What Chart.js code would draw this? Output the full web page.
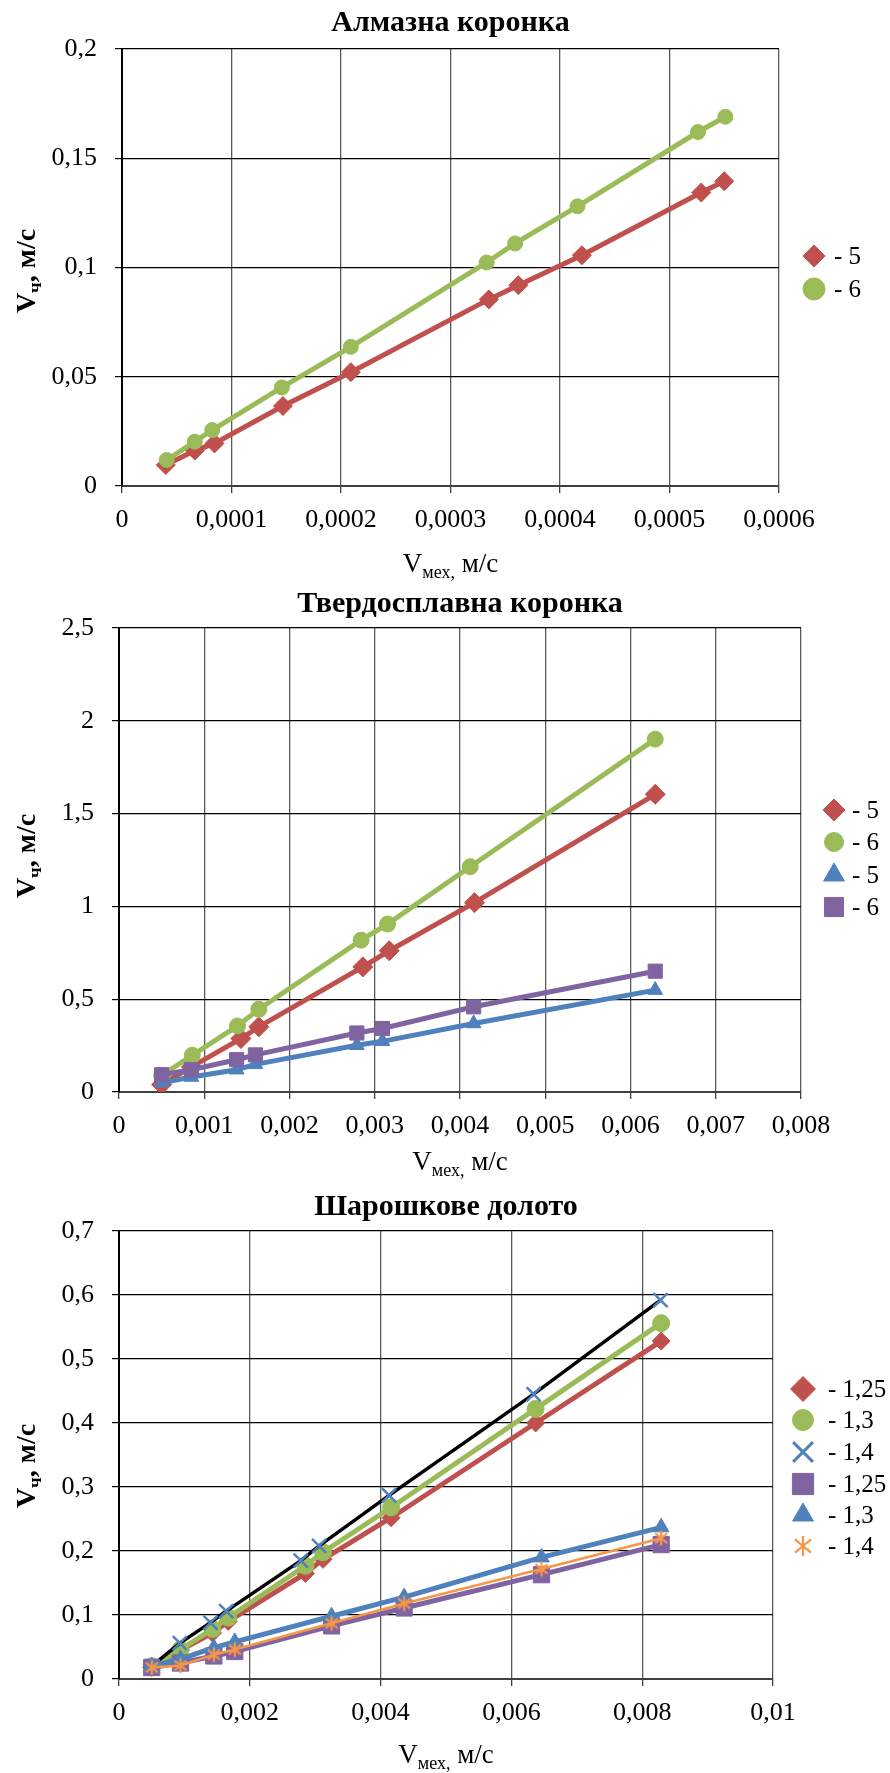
<!DOCTYPE html>
<html>
<head>
<meta charset="utf-8">
<script src="https://cdn.jsdelivr.net/npm/chart.js@4.4.1/dist/chart.umd.min.js"></script>
<style>
  body { margin: 0; background: #fff; }
  canvas { position: absolute; left: 0; }
</style>
</head>
<body>
<canvas id="c1" width="890" height="585" style="top:0"></canvas>
<canvas id="c2" width="890" height="595" style="top:585px"></canvas>
<canvas id="c3" width="890" height="593" style="top:1180px"></canvas>
<script>
// Алмазна коронка
const almazX5 = [0.000040, 0.0000665, 0.0000845, 0.000147, 0.000209, 0.000335, 0.000362, 0.000420, 0.000529, 0.000550];
const almazY5 = [0.0096, 0.0162, 0.0195, 0.0366, 0.0521, 0.0854, 0.0919, 0.1056, 0.1343, 0.1395];
const almazX6 = [0.0000408, 0.0000665, 0.0000824, 0.000146, 0.000209, 0.000333, 0.000359, 0.000416, 0.000526, 0.000551];
const almazY6 = [0.0119, 0.0203, 0.0256, 0.0451, 0.0637, 0.1023, 0.111, 0.128, 0.162, 0.169];
const almazXTicks = [0, 0.0001, 0.0002, 0.0003, 0.0004, 0.0005, 0.0006];
const almazYTicks = [0, 0.05, 0.1, 0.15, 0.2];
const almazLabels = ['- 5', '- 6'];

// Твердосплавна коронка
const hardX5 = [0.0005, 0.00085, 0.00143, 0.00164, 0.00286, 0.00317, 0.00417, 0.00629];
const hardY5 = [0.04, 0.135, 0.288, 0.351, 0.674, 0.761, 1.02, 1.604];
const hardX6 = [0.0005, 0.00086, 0.00139, 0.00164, 0.00284, 0.00315, 0.00412, 0.00629];
const hardY6 = [0.09, 0.198, 0.356, 0.446, 0.818, 0.905, 1.214, 1.901];
const hardXlow = [0.0005, 0.00085, 0.00138, 0.0016, 0.00279, 0.00309, 0.00416, 0.00629];
const hardY5low = [0.05, 0.081, 0.12, 0.149, 0.252, 0.273, 0.369, 0.549];
const hardY6low = [0.093, 0.12, 0.174, 0.2, 0.318, 0.342, 0.459, 0.651];
const hardXTicks = [0, 0.001, 0.002, 0.003, 0.004, 0.005, 0.006, 0.007, 0.008];
const hardYTicks = [0, 0.5, 1, 1.5, 2, 2.5];
const hardLabels = ['- 5', '- 6', '- 5', '- 6'];

// Шарошкове долото
const rollX = [0.0005, 0.00094, 0.00143, 0.00167, 0.00285, 0.00312, 0.00416, 0.00637, 0.00829];
const rollY125 = [0.018, 0.045, 0.072, 0.09, 0.165, 0.187, 0.252, 0.40, 0.528];
const rollY13 = [0.02, 0.046, 0.078, 0.096, 0.177, 0.198, 0.268, 0.422, 0.556];
const rollX14 = [0.0005, 0.00093, 0.0014, 0.00164, 0.00278, 0.00306, 0.00413, 0.00634, 0.00828];
const rollY14 = [0.02, 0.056, 0.088, 0.106, 0.185, 0.208, 0.287, 0.445, 0.592];
const rollXlow = [0.0005, 0.00094, 0.00145, 0.00177, 0.00325, 0.00436, 0.00646, 0.00829];
const rollY125low = [0.018, 0.025, 0.036, 0.043, 0.083, 0.111, 0.163, 0.21];
const rollY13low = [0.02, 0.031, 0.049, 0.058, 0.098, 0.128, 0.19, 0.237];
const rollY14low = [0.018, 0.021, 0.038, 0.046, 0.087, 0.118, 0.172, 0.22];
const rollXTicks = [0, 0.002, 0.004, 0.006, 0.008, 0.01];
const rollYTicks = [0, 0.1, 0.2, 0.3, 0.4, 0.5, 0.6, 0.7];
const rollLabels = ['- 1,25', '- 1,3', '- 1,4', '- 1,25', '- 1,3', '- 1,4'];

const RED = '#C0504D', GREEN = '#9BBB59', BLUE = '#4F81BD', PURPLE = '#8064A2', ORANGE = '#F79646';
const serif = "'Liberation Serif', 'Times New Roman', serif";

const fmt = v => String(+v.toFixed(8)).replace('.', ',');
const pts = (xs, ys) => xs.map((x, i) => ({ x: x, y: ys[i] }));

// excel-like asterisk marker
function makeStar(size, color) {
  const c = document.createElement('canvas');
  c.width = size; c.height = size;
  const g = c.getContext('2d');
  const m = size / 2, d = size * 0.42;
  g.strokeStyle = color;
  g.lineWidth = 2.2;
  g.beginPath();
  g.moveTo(m, m - d); g.lineTo(m, m + d);
  g.moveTo(m - d * 0.8, m - d * 0.65); g.lineTo(m + d * 0.8, m + d * 0.65);
  g.moveTo(m + d * 0.8, m - d * 0.65); g.lineTo(m - d * 0.8, m + d * 0.65);
  g.stroke();
  return c;
}

function series(label, data, color, style, r, legendR, opts) {
  return Object.assign({
    label: label,
    data: data,
    fill: false,
    borderColor: color,
    borderWidth: 5,
    pointStyle: style,
    pointRadius: r,
    pointBackgroundColor: color,
    pointBorderColor: color,
    pointBorderWidth: 1,
    legendRadius: legendR,
    tension: 0
  }, opts || {});
}

function drawParts(ctx, parts, cx, base) {
  let w = 0;
  parts.forEach(p => { ctx.font = p[1]; w += ctx.measureText(p[0]).width; });
  let x = cx - w / 2;
  ctx.textAlign = 'left';
  ctx.textBaseline = 'alphabetic';
  parts.forEach(p => {
    ctx.font = p[1];
    ctx.fillText(p[0], x, base + (p[2] || 0));
    x += ctx.measureText(p[0]).width;
  });
}

function textsPlugin(cfg) {
  return {
    id: 'texts',
    afterDraw(chart) {
      const ctx = chart.ctx;
      const a = chart.chartArea;
      const cx = (a.left + a.right) / 2;
      ctx.save();
      ctx.fillStyle = '#000';
      ctx.textAlign = 'center';
      ctx.textBaseline = 'middle';
      ctx.font = 'bold 30px ' + serif;
      ctx.fillText(cfg.title, cx, cfg.titleY);

      drawParts(ctx, [['V', '27px ' + serif], ['мех,', '18px ' + serif, 6], [' м/с', '27px ' + serif]], cx, cfg.xTitleBase);

      ctx.save();
      ctx.translate(35, cfg.yTitleY);
      ctx.rotate(-Math.PI / 2);
      drawParts(ctx, [['V', 'bold 28px ' + serif], ['ч', 'bold 19px ' + serif, 6], [', м/с', 'bold 28px ' + serif]], 0, 0);
      ctx.restore();

      // legend: markers only, like the original
      chart.data.datasets.forEach((ds, i) => {
        const y = cfg.legendY[i];
        ctx.fillStyle = ds.pointBackgroundColor;
        ctx.strokeStyle = ds.pointBorderColor;
        ctx.lineWidth = ds.legendBorder || 1;
        Chart.helpers.drawPoint(ctx, {
          pointStyle: ds.legendStyle || ds.pointStyle,
          radius: ds.legendRadius,
          rotation: 0,
          borderWidth: ds.legendBorder || 1
        }, cfg.markerX, y);
        ctx.fillStyle = '#000';
        ctx.font = '25px ' + serif;
        ctx.textAlign = 'left';
        ctx.textBaseline = 'alphabetic';
        ctx.fillText(ds.label, cfg.textX, y + 8);
      });
      ctx.restore();
    }
  };
}

function makeChart(id, cfg) {
  const canvas = document.getElementById(id);
  const W = canvas.width, H = canvas.height;
  const tickFont = { family: serif, size: 26 };
  new Chart(canvas, {
    type: 'line',
    data: { datasets: cfg.datasets },
    options: {
      responsive: false,
      animation: false,
      layout: { padding: { left: 0, right: W - cfg.area.r, top: cfg.area.t, bottom: 0 } },
      plugins: { legend: { display: false }, tooltip: { enabled: false } },
      scales: {
        x: {
          type: 'linear',
          min: cfg.xTicks[0],
          max: cfg.xTicks[cfg.xTicks.length - 1],
          afterBuildTicks: s => { s.ticks = cfg.xTicks.map(v => ({ value: v })); },
          afterFit: s => { s.height = H - cfg.area.b; },
          ticks: { color: '#000', font: tickFont, padding: 12, maxRotation: 0, autoSkip: false, callback: fmt },
          grid: { color: '#5a5a5a', lineWidth: 1.3, tickLength: 7, tickColor: '#404040' },
          border: { color: '#404040', width: 2 }
        },
        y: {
          type: 'linear',
          min: cfg.yTicks[0],
          max: cfg.yTicks[cfg.yTicks.length - 1],
          afterBuildTicks: s => { s.ticks = cfg.yTicks.map(v => ({ value: v })); },
          afterFit: s => { s.width = cfg.area.l; },
          ticks: { color: '#000', font: tickFont, padding: 18, autoSkip: false, callback: fmt },
          grid: { color: '#000', lineWidth: 1.2, tickLength: 7, tickColor: '#000' },
          border: { color: '#000', width: 2 }
        }
      }
    },
    plugins: [textsPlugin(cfg)]
  });
}

makeChart('c1', {
  area: { l: 122, r: 779, t: 49, b: 486 },
  xTicks: almazXTicks, yTicks: almazYTicks,
  title: 'Алмазна коронка', titleY: 23, xTitleBase: 572, yTitleY: 271,
  markerX: 814, textX: 834, legendY: [256, 289],
  datasets: [
    series(almazLabels[0], pts(almazX5, almazY5), RED, 'rectRot', 9.5, 11, { order: 0 }),
    series(almazLabels[1], pts(almazX6, almazY6), GREEN, 'circle', 7.5, 11, { order: -1 })
  ]
});

makeChart('c2', {
  area: { l: 119, r: 801, t: 43, b: 507 },
  xTicks: hardXTicks, yTicks: hardYTicks,
  title: 'Твердосплавна коронка', titleY: 19, xTitleBase: 585, yTitleY: 271,
  markerX: 834, textX: 852, legendY: [225, 257, 290, 322],
  datasets: [
    series(hardLabels[0], pts(hardX5, hardY5), RED, 'rectRot', 10, 11, { order: 0 }),
    series(hardLabels[1], pts(hardX6, hardY6), GREEN, 'circle', 8, 9.5, { order: -1 }),
    series(hardLabels[2], pts(hardXlow, hardY5low), BLUE, 'triangle', 8.5, 12, { order: -2 }),
    series(hardLabels[3], pts(hardXlow, hardY6low), PURPLE, 'rect', 10, 13.5, { order: -3 })
  ]
});

makeChart('c3', {
  area: { l: 119, r: 773, t: 51, b: 499 },
  xTicks: rollXTicks, yTicks: rollYTicks,
  title: 'Шарошкове долото', titleY: 27, xTitleBase: 583, yTitleY: 286,
  markerX: 803, textX: 828, legendY: [209, 240, 272, 304, 335, 366],
  datasets: [
    series(rollLabels[0], pts(rollX, rollY125), RED, 'rectRot', 9, 12.5, { order: 0 }),
    series(rollLabels[1], pts(rollX, rollY13), GREEN, 'circle', 8.5, 10.5, { order: -1 }),
    series(rollLabels[2], pts(rollX14, rollY14), BLUE, 'crossRot', 10, 14,
      { order: -2, borderColor: '#000', borderWidth: 3.5, pointBorderWidth: 2.5, legendBorder: 3 }),
    series(rollLabels[3], pts(rollXlow, rollY125low), PURPLE, 'rect', 11.5, 15, { order: -3 }),
    series(rollLabels[4], pts(rollXlow, rollY13low), BLUE, 'triangle', 9, 12, { order: -4 }),
    series(rollLabels[5], pts(rollXlow, rollY14low), ORANGE, makeStar(18, ORANGE), 9, 12,
      { order: -5, borderWidth: 2.5, legendStyle: makeStar(24, ORANGE) })
  ]
});
</script>
</body>
</html>
